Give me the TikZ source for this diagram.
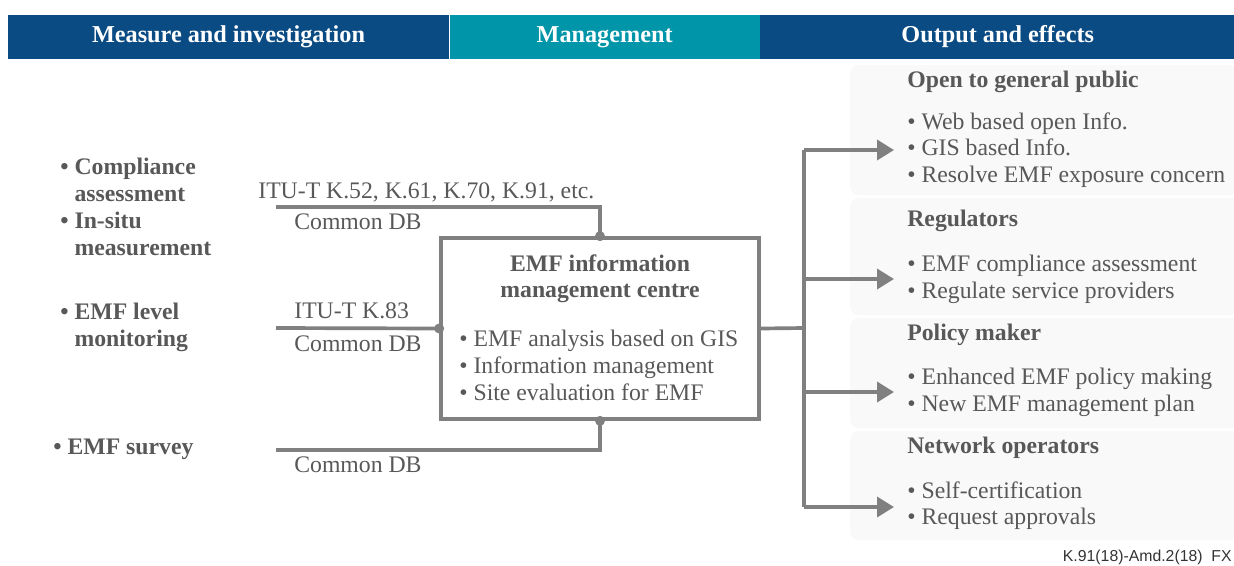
\documentclass[tikz,border=0pt]{standalone}
\usepackage{fontspec}
\setmainfont{Liberation Serif}
\setsansfont{Liberation Sans}
\usetikzlibrary{positioning,arrows.meta}

\definecolor{hdblue}{RGB}{11,75,131}
\definecolor{hdteal}{RGB}{0,149,168}
\definecolor{txtgray}{RGB}{88,88,88}
\definecolor{linegray}{RGB}{128,128,128}
\definecolor{panelgray}{RGB}{249,249,249}

\tikzset{
  bodytxt/.style={inner sep=0pt, text=txtgray, align=left, anchor=north west,
    font=\fontsize{13.5}{15.3}\selectfont},
  boldtxt/.style={bodytxt, font=\fontsize{13.5}{15.3}\selectfont\bfseries},
  hdrbar/.style={minimum height=0.88cm, inner sep=0pt, text=white,
    font=\fontsize{13.8}{15.3}\selectfont\bfseries},
  conn/.style={draw=linegray, line width=2.1pt},
  outarrow/.style={conn, -{Triangle[length=0.34cm,width=0.4cm]}},
  joint/.style={fill=linegray},
  panel/.style={fill=panelgray, rounded corners=5pt}
}

\begin{document}
\begin{tikzpicture}
% one unit = one pixel of the 1234x565 sheet, y runs downwards
\def\px{0.02cm}
\providecommand{\emfBullet}{\textbullet\ }
\providecommand{\emfIndent}{\hphantom{\textbullet\ }}
\begin{scope}[x=\px, y=-\px, line cap=butt, line join=miter]
  \useasboundingbox (0,0) rectangle (1234,565);
  % Header bands
  \node[hdrbar, fill=hdblue, minimum width=8.82cm] (hmeas) at (228.5,37) {Measure and investigation};
  \node[hdrbar, fill=hdteal, minimum width=6.2cm, right=0pt of hmeas] (hmgmt) {Management};
  \node[hdrbar, fill=hdblue, minimum width=9.5cm, right=0pt of hmgmt] (hout) {Output and effects};
  % Output panels
  \path[panel] (850,65) rectangle (1240,195);
  \path[panel] (850,198) rectangle (1240,315);
  \path[panel] (850,318) rectangle (1240,428);
  \path[panel] (850,431) rectangle (1240,540);
  % Measure and investigation
  \node[boldtxt] (compl) at (60,158) {\emfBullet Compliance\\\emfIndent assessment\\\emfBullet In-situ\\\emfIndent measurement};
  \node[boldtxt] (monit) at (60,303) {\emfBullet EMF level\\\emfIndent monitoring};
  \node[boldtxt] (survey) at (53,439) {\emfBullet EMF survey};
  % Management centre
  \node[draw=linegray, line width=2.1pt, minimum width=6.36cm, minimum height=3.62cm, inner sep=0pt] (centre) at (600,328.5) {};
  \node[boldtxt, anchor=north, align=center] (ctitle) at (600,254) {EMF information\\management centre};
  \node[bodytxt] (ctasks) at (459,330) {\emfBullet EMF analysis based on GIS\\\emfBullet Information management\\\emfBullet Site evaluation for EMF};
  % Inputs
  \coordinate (in1) at (276,207);
  \coordinate (in2) at (276,328);
  \coordinate (in3) at (276,450);
  \draw[conn] (in1) -| (centre.north);
  \draw[conn] (in2) -- (centre.west);
  \draw[conn] (in3) -| (centre.south);
  \fill[joint] (centre.north) circle[radius=0.1cm];
  \fill[joint] (centre.west) circle[radius=0.1cm];
  \fill[joint] (centre.south) circle[radius=0.1cm];
  \node[bodytxt] (std1) at (258,182) {ITU-T K.52, K.61, K.70, K.91, etc.};
  \node[bodytxt] (db1) at (294,213) {Common DB};
  \node[bodytxt] (std2) at (294,302) {ITU-T K.83};
  \node[bodytxt] (db2) at (294,335) {Common DB};
  \node[bodytxt] (db3) at (294,456) {Common DB};
  % Outputs
  \coordinate (hub) at (804,328);
  \coordinate (top) at (804,150);
  \coordinate (bot) at (804,507);
  \coordinate (out1) at (894,150);
  \coordinate (out2) at (894,279);
  \coordinate (out3) at (894,392);
  \coordinate (out4) at (894,507);
  \draw[conn] (centre.east) -- (hub);
  \draw[conn] (top) -- (bot);
  \draw[outarrow] (top) -- (out1);
  \draw[outarrow] (out2 -| hub) -- (out2);
  \draw[outarrow] (out3 -| hub) -- (out3);
  \draw[outarrow] (bot) -- (out4);
  % Panel texts
  \node[boldtxt] (public) at (907,71) {Open to general public};
  \node[bodytxt] (publicl) at (907,112) {\emfBullet Web based open Info.\\\emfBullet GIS based Info.\\\emfBullet Resolve EMF exposure concern};
  \node[boldtxt] (regul) at (907,210) {Regulators};
  \node[bodytxt] (regull) at (907,255) {\emfBullet EMF compliance assessment\\\emfBullet Regulate service providers};
  \node[boldtxt] (policy) at (907,324) {Policy maker};
  \node[bodytxt] (policyl) at (907,368) {\emfBullet Enhanced EMF policy making\\\emfBullet New EMF management plan};
  \node[boldtxt] (netop) at (907,437) {Network operators};
  \node[bodytxt] (netopl) at (907,481) {\emfBullet Self-certification\\\emfBullet Request approvals};
  % Figure number
  \node[inner sep=0pt, anchor=east, text=black!80, font=\sffamily\fontsize{9}{10}\selectfont] (figno) at (1232,557) {K.91(18)-Amd.2(18)\ \ FX};
\end{scope}
\end{tikzpicture}
\end{document}
